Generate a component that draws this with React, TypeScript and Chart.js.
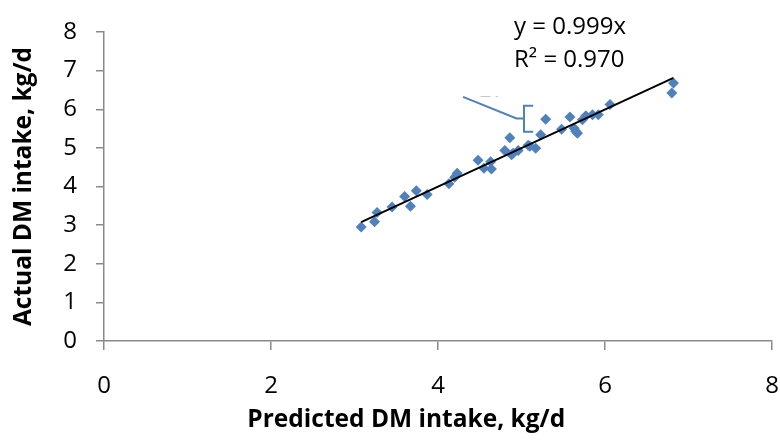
import React, { useEffect, useRef } from "react";
import { Chart, registerables } from "chart.js";

Chart.register(...registerables);

// Predicted vs actual DM intake (kg/d)
const predicted = [
  3.08, 3.24, 3.27, 3.45, 3.6, 3.67, 3.74, 3.87, 4.13, 4.2, 4.23, 4.48, 4.55,
  4.64, 4.63, 4.8, 4.86, 4.88, 4.9, 4.96, 5.08, 5.1, 5.17, 5.23, 5.29, 5.48,
  5.58, 5.63, 5.65, 5.67, 5.73, 5.77, 5.85, 5.92, 6.06, 6.8, 6.82,
];
const actual = [
  2.95, 3.09, 3.33, 3.47, 3.74, 3.49, 3.89, 3.79, 4.07, 4.24, 4.34, 4.68, 4.47,
  4.45, 4.64, 4.93, 5.26, 4.82, 4.86, 4.93, 5.07, 5.04, 4.99, 5.34, 5.74, 5.48,
  5.8, 5.51, 5.43, 5.38, 5.73, 5.83, 5.86, 5.86, 6.12, 6.42, 6.68,
];
const slope = 0.999;
const equationLines = ["y = 0.999x", "R² = 0.970"];
const xTicks = [0, 2, 4, 6, 8];
const yTicks = [0, 1, 2, 3, 4, 5, 6, 7, 8];
const xTitle = "Predicted DM intake, kg/d";
const yTitle = "Actual DM intake, kg/d";

// leftover callout (data units)
const calloutLine = [
  [4.3, 6.32],
  [4.94, 5.76],
  [5.02, 5.76],
];
const calloutBracket = [
  [5.14, 6.09],
  [5.03, 6.09],
  [5.03, 5.42],
  [5.14, 5.42],
];
const calloutDashes = [
  [4.51, 4.63, 6.33],
  [4.69, 4.72, 6.33],
];
const equationAnchor = [4.91, 8.12, 7.27];
const xTitleCenter = 3.62;

const AXIS = "#8a8a8a";
const BLUE = "#4f81bd";
const FAMILY = "'Open Sans', sans-serif";
const TICK_FONT = { family: FAMILY, size: 24 };
const TITLE_FONT = { family: FAMILY, size: 24.5, weight: "bold" as const };

export default function App() {
  const ref = useRef<HTMLCanvasElement | null>(null);

  useEffect(() => {
    document.body.style.margin = "0";
    const canvas = ref.current;
    if (!canvas) return;
    const xMin = Math.min(...predicted);
    const xMax = Math.max(...predicted);

    const overlay = {
      id: "overlay",
      afterDraw(chart: any) {
        const { ctx } = chart;
        const xs = chart.scales.x;
        const ys = chart.scales.y;
        const px = (v: number) => xs.getPixelForValue(v);
        const py = (v: number) => ys.getPixelForValue(v);
        ctx.save();
        ctx.strokeStyle = BLUE;
        ctx.lineWidth = 2;
        ctx.beginPath();
        calloutLine.forEach(([a, b], i) =>
          i ? ctx.lineTo(px(a), py(b)) : ctx.moveTo(px(a), py(b))
        );
        ctx.stroke();
        ctx.beginPath();
        calloutBracket.forEach(([a, b], i) =>
          i ? ctx.lineTo(px(a), py(b)) : ctx.moveTo(px(a), py(b))
        );
        ctx.stroke();
        ctx.strokeStyle = "#c8c8c8";
        ctx.lineWidth = 1;
        calloutDashes.forEach(([a, b, c]) => {
          ctx.beginPath();
          ctx.moveTo(px(a), py(c));
          ctx.lineTo(px(b), py(c));
          ctx.stroke();
        });
        ctx.fillStyle = "#000";
        ctx.font = "24px " + FAMILY;
        ctx.textBaseline = "middle";
        ctx.textAlign = "left";
        ctx.fillText(equationLines[0], px(equationAnchor[0]), py(equationAnchor[1]));
        ctx.fillText(equationLines[1], px(equationAnchor[0]), py(equationAnchor[2]));
        ctx.font = "bold 24.5px " + FAMILY;
        ctx.textAlign = "center";
        ctx.fillText(xTitle, px(xTitleCenter), chart.height - 21);
        ctx.restore();
      },
    };

    const chart = new Chart(canvas, {
      type: "scatter",
      data: {
        datasets: [
          {
            type: "line",
            data: [
              { x: xMin, y: slope * xMin },
              { x: xMax, y: slope * xMax },
            ],
            borderColor: "#000",
            borderWidth: 2,
            pointRadius: 0,
            fill: false,
            order: 0,
          } as any,
          {
            data: predicted.map((x, i) => ({ x, y: actual[i] })),
            backgroundColor: BLUE,
            borderColor: BLUE,
            borderWidth: 0,
            pointStyle: "rectRot",
            pointRadius: 5.5,
            order: 1,
          },
        ],
      },
      options: {
        animation: false,
        responsive: false,
        devicePixelRatio: 1,
        layout: { padding: { top: 32, right: 8, left: 0, bottom: 0 } },
        plugins: { legend: { display: false }, tooltip: { enabled: false } },
        scales: {
          x: {
            type: "linear",
            min: 0,
            max: 8,
            afterBuildTicks: (s: any) => {
              s.ticks = xTicks.map((v) => ({ value: v }));
            },
            afterFit: (s: any) => {
              s.height = 100;
              s.paddingLeft = 0;
              s.paddingRight = 0;
            },
            ticks: { color: "#000", font: TICK_FONT, padding: 22, maxRotation: 0 },
            grid: { drawOnChartArea: false, drawTicks: true, tickLength: 9, color: AXIS, lineWidth: 1.5 },
            border: { display: true, color: AXIS, width: 1.5 },
          },
          y: {
            type: "linear",
            min: 0,
            max: 8,
            afterBuildTicks: (s: any) => {
              s.ticks = yTicks.map((v) => ({ value: v }));
            },
            afterFit: (s: any) => {
              s.width = 104;
              s.paddingTop = 0;
              s.paddingBottom = 0;
            },
            ticks: { color: "#000", font: TICK_FONT, padding: 19 },
            grid: { drawOnChartArea: false, drawTicks: true, tickLength: 8, color: AXIS, lineWidth: 1.5 },
            border: { display: true, color: AXIS, width: 1.5 },
            title: { display: true, text: yTitle, color: "#000", font: TITLE_FONT, padding: { top: 9, bottom: 0 } },
          },
        },
      },
      plugins: [overlay],
    });

    return () => chart.destroy();
  }, []);

  return (
    <div style={{ width: 780, height: 441, position: "relative" }}>
      <canvas ref={ref} width={780} height={441} />
    </div>
  );
}
